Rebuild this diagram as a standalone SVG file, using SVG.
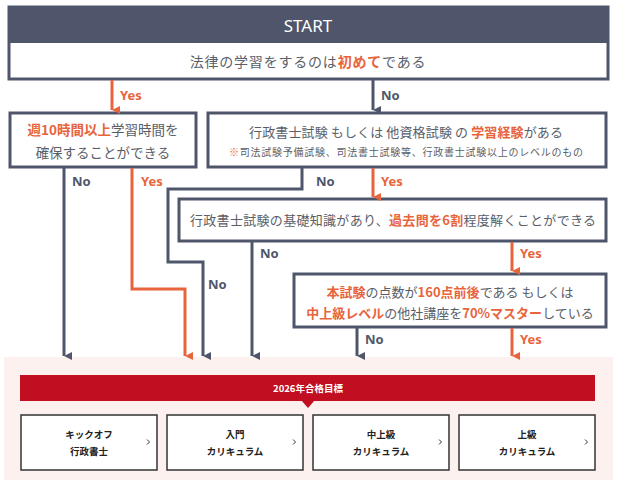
<svg xmlns="http://www.w3.org/2000/svg" width="617" height="480" viewBox="0 0 617 480">
<defs>
<style>
.box{fill:#fff;stroke:#4f566b;stroke-width:3}
.t{font-family:"Noto Sans CJK JP","Noto Sans",sans-serif;fill:#5a5e68;text-anchor:middle}
.o{fill:#e8643c;font-weight:bold}
.ln{fill:none;stroke:#4f566b;stroke-width:3}
.lo{fill:none;stroke:#e8643c;stroke-width:3}
.ly{font-family:"Noto Sans","Liberation Sans",sans-serif;font-weight:bold;font-size:13px;fill:#e8643c}
.lnn{font-family:"Noto Sans","Liberation Sans",sans-serif;font-weight:bold;font-size:13px;fill:#4f566b}
.cb{fill:#fff;stroke:#333;stroke-width:1.5}
.ct{font-family:"Noto Sans CJK JP",sans-serif;font-weight:bold;font-size:9.5px;fill:#222;text-anchor:middle}
.chev{fill:none;stroke:#333;stroke-width:1}
</style>
<marker id="ad" viewBox="0 0 8 8" refX="4" refY="8" markerWidth="8" markerHeight="8" markerUnits="userSpaceOnUse" orient="auto-start-reverse">
<path d="M0,0 L8,0 L4,8 Z" fill="#4f566b"/>
</marker>
<marker id="ao" viewBox="0 0 8 8" refX="4" refY="8" markerWidth="8" markerHeight="8" markerUnits="userSpaceOnUse" orient="auto-start-reverse">
<path d="M0,0 L8,0 L4,8 Z" fill="#e8643c"/>
</marker>
</defs>
<rect width="617" height="480" fill="#fff"/>
<rect x="4" y="357" width="609" height="123" fill="#fdf1f0"/>

<g id="start">
<rect x="9" y="7" width="599" height="72" class="box"/>
<rect x="9" y="7" width="599" height="36" fill="#4f566b"/>
<text x="308" y="32" font-family="'Noto Sans','Liberation Sans',sans-serif" font-size="17" fill="#fff" text-anchor="middle">START</text>
<text x="308" y="67" class="t" font-size="14" letter-spacing="0.8">法律の学習をするのは<tspan class="o" font-weight="normal">初めて</tspan>である</text>
</g>

<g id="q1">
<rect x="10" y="113" width="186" height="54" class="box"/>
<text x="103" y="135" class="t" font-size="13.5"><tspan class="o" font-weight="normal">週10時間以上</tspan>学習時間を</text>
<text x="103" y="158" class="t" font-size="13.5">確保することができる</text>
</g>

<g id="q2">
<rect x="208" y="113" width="398" height="54" class="box"/>
<text x="406" y="137" class="t" font-size="13" textLength="314" lengthAdjust="spacing">行政書士試験 もしくは 他資格試験 の <tspan class="o">学習経験</tspan>がある</text>
<text x="406" y="156" class="t" font-size="10" textLength="354" lengthAdjust="spacing"><tspan fill="#e8643c">※</tspan>司法試験予備試験、司法書士試験等、行政書士試験以上のレベルのもの</text>
</g>

<g id="q3">
<rect x="179" y="199" width="427" height="42" class="box"/>
<text x="393" y="225" class="t" font-size="13" textLength="406" lengthAdjust="spacing">行政書士試験の基礎知識があり、<tspan class="o">過去問を6割</tspan>程度解くことができる</text>
</g>

<g id="q4">
<rect x="294" y="274" width="312" height="53" class="box"/>
<text x="450" y="297" class="t" font-size="13"><tspan class="o">本試験</tspan>の点数が<tspan class="o">160点前後</tspan>である もしくは</text>
<text x="450" y="318" class="t" font-size="13"><tspan class="o">中上級レベル</tspan>の他社講座を<tspan class="o">70%マスター</tspan>している</text>
</g>

<g id="connectors">
<path d="M112,80 V110" class="lo" marker-end="url(#ao)"/>
<path d="M373,80 V110" class="ln" marker-end="url(#ad)"/>
<path d="M64,168 V356" class="ln" marker-end="url(#ad)"/>
<path d="M132,168 V289 H185 V356" class="lo" marker-end="url(#ao)"/>
<path d="M302,168 V189 H168 V262 H203 V356" class="ln" marker-end="url(#ad)"/>
<path d="M373,168 V197" class="lo" marker-end="url(#ao)"/>
<path d="M252,242 V356" class="ln" marker-end="url(#ad)"/>
<path d="M512,242 V271" class="lo" marker-end="url(#ao)"/>
<path d="M357,328 V356" class="ln" marker-end="url(#ad)"/>
<path d="M512,328 V356" class="lo" marker-end="url(#ao)"/>
<text x="120" y="100" class="ly">Yes</text>
<text x="381" y="100" class="lnn">No</text>
<text x="72" y="186" class="lnn">No</text>
<text x="141" y="186" class="ly">Yes</text>
<text x="316" y="186" class="lnn">No</text>
<text x="381" y="186" class="ly">Yes</text>
<text x="260" y="258" class="lnn">No</text>
<text x="520" y="258" class="ly">Yes</text>
<text x="208" y="289" class="lnn">No</text>
<text x="365" y="344" class="lnn">No</text>
<text x="520" y="344" class="ly">Yes</text>
</g>

<g id="target">
<rect x="20" y="375" width="575" height="26" fill="#c10e21"/>
<path d="M301,400 L308,408 L315,400 Z" fill="#c10e21"/>
<text x="308" y="391.5" font-family="'Noto Sans CJK JP',sans-serif" font-weight="bold" font-size="9.5" fill="#fff" text-anchor="middle">2026年合格目標</text>
</g>

<g id="c1">
<rect x="21" y="415" width="136" height="55" class="cb"/>
<text x="89" y="438" class="ct">キックオフ</text>
<text x="89" y="455" class="ct">行政書士</text>
<path d="M147,439.5 l2.5,2.5 l-2.5,2.5" class="chev"/>
</g>
<g id="c2">
<rect x="167" y="415" width="136" height="55" class="cb"/>
<text x="235" y="438" class="ct">入門</text>
<text x="235" y="455" class="ct">カリキュラム</text>
<path d="M293,439.5 l2.5,2.5 l-2.5,2.5" class="chev"/>
</g>
<g id="c3">
<rect x="313" y="415" width="136" height="55" class="cb"/>
<text x="381" y="438" class="ct">中上級</text>
<text x="381" y="455" class="ct">カリキュラム</text>
<path d="M439,439.5 l2.5,2.5 l-2.5,2.5" class="chev"/>
</g>
<g id="c4">
<rect x="459" y="415" width="136" height="55" class="cb"/>
<text x="527" y="438" class="ct">上級</text>
<text x="527" y="455" class="ct">カリキュラム</text>
<path d="M585,439.5 l2.5,2.5 l-2.5,2.5" class="chev"/>
</g>
</svg>
